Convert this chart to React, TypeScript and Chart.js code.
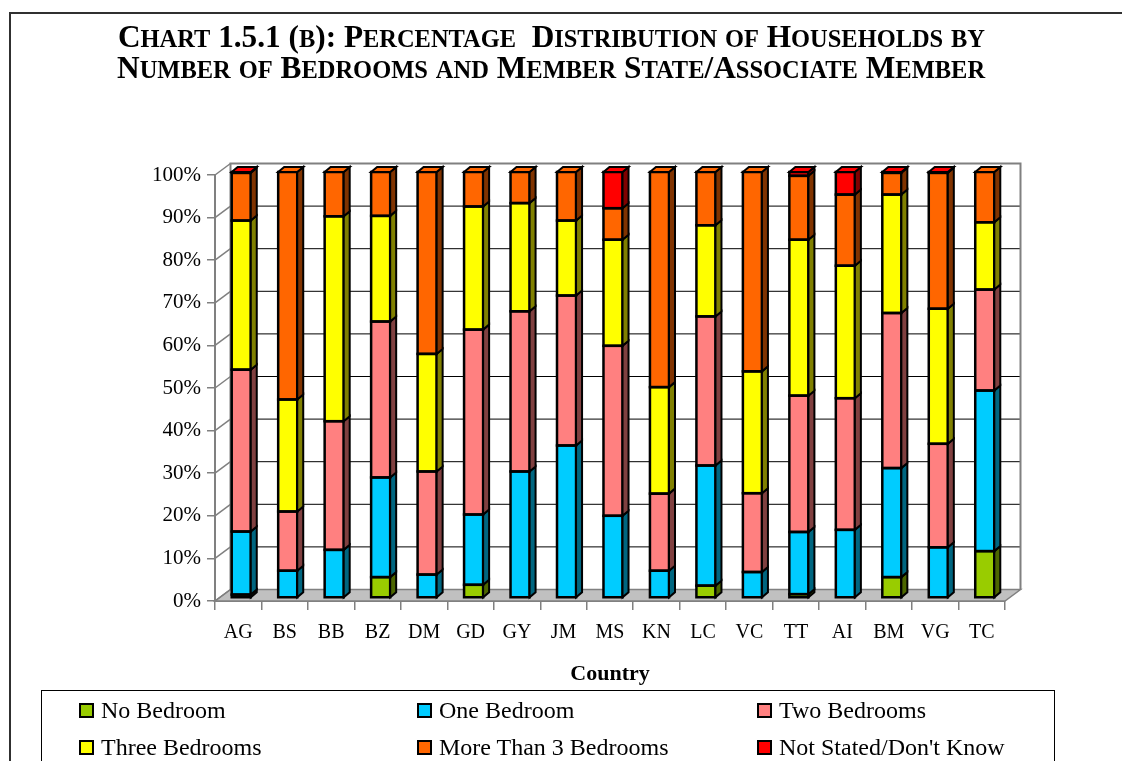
import React, { useEffect, useRef } from "react";
import { Chart, registerables } from "chart.js";

Chart.register(...registerables);

// ---------- DATA ----------
const categories = ["AG", "BS", "BB", "BZ", "DM", "GD", "GY", "JM", "MS", "KN", "LC", "VC", "TT", "AI", "BM", "VG", "TC"];

const noBedroom = [0.8, 0, 0, 4.9, 0, 3.1, 0, 0, 0, 0, 2.9, 0, 0.9, 0, 4.9, 0, 11.0];
const oneBedroom = [14.8, 6.4, 11.3, 23.4, 5.5, 16.5, 29.7, 35.8, 19.3, 6.4, 28.2, 6.1, 14.6, 16.0, 25.6, 11.9, 37.7];
const twoBedrooms = [38.0, 13.9, 30.2, 36.6, 24.2, 43.4, 37.6, 35.2, 39.9, 18.1, 35.0, 18.5, 32.0, 30.9, 36.4, 24.3, 23.7];
const threeBedrooms = [35.0, 26.3, 48.1, 24.8, 27.6, 28.9, 25.4, 17.6, 24.9, 25.0, 21.4, 28.6, 36.6, 31.1, 27.8, 31.7, 15.8];
const moreThan3 = [11.2, 53.4, 10.4, 10.3, 42.7, 8.1, 7.3, 11.4, 7.4, 50.5, 12.5, 46.8, 15.0, 16.7, 5.1, 31.9, 11.8];
const notStated = [0.2, 0, 0, 0, 0, 0, 0, 0, 8.5, 0, 0, 0, 0.9, 5.3, 0.2, 0.2, 0];

const seriesLabels = ["No Bedroom", "One Bedroom", "Two Bedrooms", "Three Bedrooms", "More Than 3 Bedrooms", "Not Stated/Don't Know"];
const seriesData = [noBedroom, oneBedroom, twoBedrooms, threeBedrooms, moreThan3, notStated];
const seriesColors = ["#99CC00", "#00CCFF", "#FF8080", "#FFFF00", "#FF6600", "#FF0000"];
const sideColors = ["#4C6600", "#006680", "#804040", "#808000", "#803300", "#800000"];

const yTicks = [0, 10, 20, 30, 40, 50, 60, 70, 80, 90, 100];

const titleLines = [
  "Chart 1.5.1 (b): Percentage  Distribution of Households by",
  "Number of Bedrooms and Member State/Associate Member",
];
const xTitle = "Country";

// ---------- 3D look ----------
const WALL_DX = 15.5;
const WALL_DY = 11.5;
const BAR_SHIFT_X = 3;
const BAR_SHIFT_Y = 3;
const BAR_DX = 6;
const BAR_DY = 5;

const threeDPlugin = {
  id: "threeD",
  beforeDatasetsDraw(chart: any) {
    const { ctx, chartArea } = chart;
    const yScale = chart.scales.y;
    const { left, right, bottom } = chartArea;
    ctx.save();
    // floor
    ctx.beginPath();
    ctx.moveTo(left, bottom);
    ctx.lineTo(right, bottom);
    ctx.lineTo(right + WALL_DX, bottom - WALL_DY);
    ctx.lineTo(left + WALL_DX, bottom - WALL_DY);
    ctx.closePath();
    ctx.fillStyle = "#C0C0C0";
    ctx.fill();
    ctx.strokeStyle = "#808080";
    ctx.lineWidth = 1.5;
    ctx.stroke();
    // gridlines on back wall and diagonal connectors
    yTicks.forEach((v) => {
      const yy = yScale.getPixelForValue(v);
      if (v > 0 && v < 100) {
        ctx.beginPath();
        ctx.moveTo(left + WALL_DX, yy - WALL_DY);
        ctx.lineTo(right + WALL_DX, yy - WALL_DY);
        ctx.strokeStyle = "#000000";
        ctx.lineWidth = 1;
        ctx.stroke();
      }
      ctx.beginPath();
      ctx.moveTo(left, yy);
      ctx.lineTo(left + WALL_DX, yy - WALL_DY);
      ctx.strokeStyle = "#808080";
      ctx.lineWidth = 1.5;
      ctx.stroke();
    });
    const top = yScale.getPixelForValue(100);
    // back wall border
    ctx.beginPath();
    ctx.moveTo(left + WALL_DX, bottom - WALL_DY);
    ctx.lineTo(left + WALL_DX, top - WALL_DY);
    ctx.lineTo(right + WALL_DX, top - WALL_DY);
    ctx.lineTo(right + WALL_DX, bottom - WALL_DY);
    ctx.strokeStyle = "#808080";
    ctx.lineWidth = 2;
    ctx.stroke();
    ctx.restore();

    ctx.save();
    ctx.translate(BAR_SHIFT_X, -BAR_SHIFT_Y);
  },
  afterDatasetsDraw(chart: any) {
    const { ctx } = chart;
    const n = chart.data.labels.length;
    const topIdx: number[] = new Array(n).fill(-1);
    chart.data.datasets.forEach((ds: any, i: number) => {
      ds.data.forEach((v: number, j: number) => {
        if (v > 0) topIdx[j] = i;
      });
    });
    ctx.strokeStyle = "#000000";
    ctx.lineJoin = "miter";
    chart.data.datasets.forEach((ds: any, i: number) => {
      const meta = chart.getDatasetMeta(i);
      meta.data.forEach((el: any, j: number) => {
        const v = ds.data[j];
        if (!(v > 0)) return;
        const { x, y, base, width } = el.getProps(["x", "y", "base", "width"], true);
        const l = x - width / 2;
        const r = x + width / 2;
        const t = Math.min(y, base);
        const b = Math.max(y, base);
        // front outline
        ctx.lineWidth = 2.5;
        ctx.strokeRect(l, t, r - l, b - t);
        // side face
        ctx.lineWidth = 2;
        ctx.beginPath();
        ctx.moveTo(r, b);
        ctx.lineTo(r, t);
        ctx.lineTo(r + BAR_DX, t - BAR_DY);
        ctx.lineTo(r + BAR_DX, b - BAR_DY);
        ctx.closePath();
        ctx.fillStyle = sideColors[i];
        ctx.fill();
        ctx.stroke();
        // top cap
        if (topIdx[j] === i) {
          ctx.beginPath();
          ctx.moveTo(l, t);
          ctx.lineTo(l + BAR_DX, t - BAR_DY);
          ctx.lineTo(r + BAR_DX, t - BAR_DY);
          ctx.lineTo(r, t);
          ctx.closePath();
          ctx.fillStyle = seriesColors[i];
          ctx.fill();
          ctx.stroke();
        }
      });
    });
    ctx.restore();
  },
};

const SERIF = "'Liberation Serif', 'Times New Roman', serif";

// Render a string as true small caps: lowercase letters shown as smaller capitals.
function smallCapsRuns(text: string) {
  const runs: { t: string; small: boolean }[] = [];
  for (const ch of text) {
    const small = ch !== ch.toUpperCase();
    const last = runs[runs.length - 1];
    if (last && last.small === small) last.t += ch;
    else runs.push({ t: ch, small });
  }
  return runs.map((r, k) => (
    <span key={k} style={{ fontSize: r.small ? 25 : 32, textTransform: "uppercase" }}>
      {r.t}
    </span>
  ));
}

export default function App() {
  const canvasRef = useRef<HTMLCanvasElement>(null);
  const t1 = useRef<HTMLSpanElement>(null);
  const t2 = useRef<HTMLSpanElement>(null);

  useEffect(() => {
    const chart = new Chart(canvasRef.current as HTMLCanvasElement, {
      type: "bar",
      data: {
        labels: categories,
        datasets: seriesLabels.map((label, i) => ({
          label,
          data: seriesData[i],
          backgroundColor: seriesColors[i],
          borderColor: "#000000",
          borderWidth: 0,
          borderSkipped: false,
          inflateAmount: 0,
          barPercentage: 0.41,
          categoryPercentage: 1,
          clip: false,
        })),
      },
      options: {
        animation: false,
        responsive: false,
        maintainAspectRatio: false,
        layout: { padding: { left: 0, top: 175, right: 117, bottom: 0 } },
        plugins: {
          legend: { display: false },
          title: { display: false },
          tooltip: { enabled: false },
        },
        scales: {
          x: {
            stacked: true,
            afterFit: (s: any) => {
              s.height = 160;
            },
            grid: {
              display: true,
              drawOnChartArea: false,
              drawTicks: true,
              tickLength: 9,
              color: "#808080",
              lineWidth: 1.5,
              offset: true,
            },
            border: { display: true, color: "#808080", width: 2 },
            ticks: {
              color: "#000000",
              font: { family: SERIF, size: 20 },
              padding: 11,
              maxRotation: 0,
              autoSkip: false,
            },
            title: {
              display: true,
              text: xTitle,
              color: "#000000",
              font: { family: SERIF, size: 22, weight: "bold" },
              padding: { top: 0, bottom: 73 },
            },
          },
          y: {
            stacked: true,
            min: 0,
            max: 100,
            afterFit: (s: any) => {
              s.width = 215;
            },
            grid: {
              display: true,
              drawOnChartArea: false,
              drawTicks: true,
              tickLength: 8,
              color: "#808080",
              lineWidth: 1.5,
            },
            border: { display: true, color: "#808080", width: 2 },
            ticks: {
              stepSize: 10,
              color: "#000000",
              font: { family: SERIF, size: 21 },
              padding: 6,
              callback: (v: any) => `${v}%`,
            },
          },
        },
      },
      plugins: [threeDPlugin],
    } as any);

    const fit = (el: HTMLSpanElement | null, target: number) => {
      if (!el) return;
      el.style.transform = "none";
      const w = el.offsetWidth;
      if (w > 0) el.style.transform = `scaleX(${target / w})`;
    };
    fit(t1.current, 867);
    fit(t2.current, 868);

    return () => chart.destroy();
  }, []);

  const titleStyle: React.CSSProperties = {
    position: "absolute",
    whiteSpace: "pre",
    fontFamily: SERIF,
    fontWeight: "bold",
    fontSize: 32,
    lineHeight: "32px",
    color: "#000",
    transformOrigin: "left top",
    display: "inline-block",
  };

  const legendCols = [79, 417, 757];
  const legendRowsMarker = [703, 740];
  const legendRowsText = [698, 735];

  return (
    <div
      style={{
        position: "fixed",
        left: 0,
        top: 0,
        width: 1122,
        height: 761,
        overflow: "hidden",
        background: "#ffffff",
      }}
    >
      <div
        style={{
          position: "absolute",
          left: 9,
          top: 12,
          width: 1200,
          height: 800,
          borderTop: "2px solid #303030",
          borderLeft: "2px solid #303030",
        }}
      />
      <canvas ref={canvasRef} width={1122} height={761} style={{ position: "absolute", left: 0, top: 0 }} />
      <span ref={t1} style={{ ...titleStyle, left: 118, top: 20 }}>
        {smallCapsRuns(titleLines[0])}
      </span>
      <span ref={t2} style={{ ...titleStyle, left: 117, top: 51 }}>
        {smallCapsRuns(titleLines[1])}
      </span>
      <div
        style={{
          position: "absolute",
          left: 41,
          top: 690,
          width: 1012,
          height: 120,
          border: "1px solid #000",
        }}
      />
      {seriesLabels.map((label, i) => {
        const col = i % 3;
        const row = Math.floor(i / 3);
        return (
          <React.Fragment key={label}>
            <div
              style={{
                position: "absolute",
                left: legendCols[col],
                top: legendRowsMarker[row],
                width: 15,
                height: 15,
                boxSizing: "border-box",
                border: "2px solid #000",
                background: seriesColors[i],
              }}
            />
            <div
              style={{
                position: "absolute",
                left: legendCols[col] + 22,
                top: legendRowsText[row],
                fontFamily: SERIF,
                fontSize: 24,
                lineHeight: "24px",
                whiteSpace: "pre",
                color: "#000",
              }}
            >
              {label}
            </div>
          </React.Fragment>
        );
      })}
    </div>
  );
}
